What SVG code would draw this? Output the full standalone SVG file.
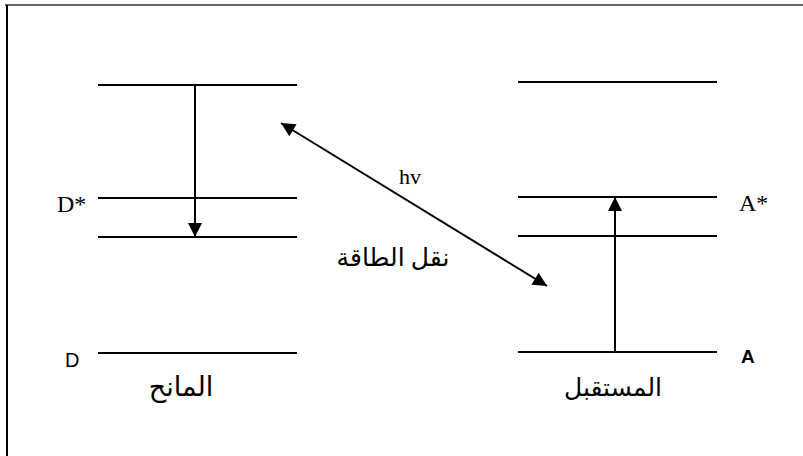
<svg xmlns="http://www.w3.org/2000/svg" width="803" height="456" viewBox="0 0 803 456">
<style>
.lvl{stroke:#000;stroke-width:2;fill:none}
.ar{stroke:#000;stroke-width:2;fill:none}
.serif{font-family:"Liberation Serif","DejaVu Serif",serif;fill:#000}
.sans{font-family:"Liberation Sans","DejaVu Sans",sans-serif;fill:#000}
.ar-txt{font-family:"Liberation Serif","DejaVu Sans","Noto Sans",serif;fill:#000}
</style>
<defs>
<marker id="triB" viewBox="0 0 10 10" refX="10" refY="5" markerWidth="17" markerHeight="14" markerUnits="userSpaceOnUse" orient="auto-start-reverse">
<path d="M0,0 L10,5 L0,10 z" fill="#000"/>
</marker>
</defs>
<rect width="803" height="456" fill="#fff"/>
<g id="frame">
<line x1="5" y1="5" x2="803" y2="5" stroke="#333" stroke-width="1.5"/>
<line x1="7" y1="5" x2="7" y2="456" stroke="#000" stroke-width="2"/>
</g>
<g id="donor">
<line class="lvl" x1="98" y1="85" x2="297" y2="85"/>
<line class="lvl" x1="98" y1="198" x2="297" y2="198"/>
<line class="lvl" x1="98" y1="237" x2="297" y2="237"/>
<line class="lvl" x1="98" y1="353" x2="297" y2="353"/>
<text class="serif" x="57" y="212" font-size="24">D*</text>
<text class="sans" x="65" y="367" font-size="20">D</text>
<text class="ar-txt" x="181" y="396" font-size="27" text-anchor="middle" direction="rtl">المانح</text>
</g>
<g id="acceptor">
<line class="lvl" x1="518" y1="82" x2="717" y2="82"/>
<line class="lvl" x1="518" y1="197" x2="717" y2="197"/>
<line class="lvl" x1="518" y1="236" x2="717" y2="236"/>
<line class="lvl" x1="518" y1="352" x2="717" y2="352"/>
<text class="serif" x="739" y="211" font-size="24">A*</text>
<text class="sans" x="741" y="363" font-size="19" font-weight="bold">A</text>
<text class="ar-txt" x="613" y="396" font-size="25" text-anchor="middle" direction="rtl">المستقبل</text>
</g>
<g id="connectors">
<line class="ar" x1="195" y1="85" x2="195" y2="237" marker-end="url(#triB)"/>
<line class="ar" x1="615" y1="352" x2="615" y2="197" marker-end="url(#triB)"/>
<line class="ar" x1="281" y1="123" x2="547" y2="286" marker-start="url(#triB)" marker-end="url(#triB)"/>
<text class="serif" x="410" y="184" font-size="22" text-anchor="middle">hv</text>
<text class="ar-txt" x="393" y="266" font-size="25" text-anchor="middle" direction="rtl">نقل الطاقة</text>
</g>
</svg>
